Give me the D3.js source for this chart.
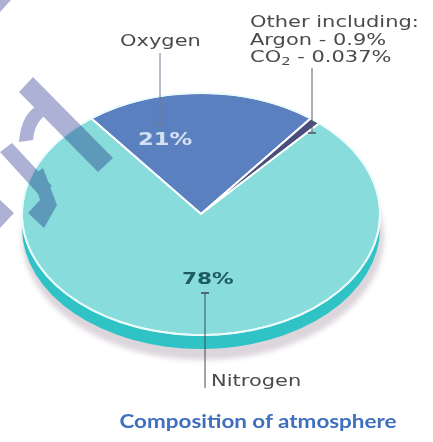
<!DOCTYPE html>
<html>
<head>
<meta charset="utf-8">
<script src="https://cdnjs.cloudflare.com/ajax/libs/d3/7.8.5/d3.min.js"></script>
<style>
  html, body { margin: 0; padding: 0; background: #fff; }
  svg { display: block; }
</style>
</head>
<body>
<svg width="433" height="442"></svg>
<script>
// chart data
var gases = ['Oxygen', 'Other', 'Nitrogen'];
var shares = [21, 1, 78];
var shareLabels = ['21%', '', '78%'];
var sliceColors = ['#5b80c0', '#4a4e7c', '#88dcdc'];
var otherLines = ['Other including:', 'Argon - 0.9%', 'CO|2| - 0.037%'];

var svg = d3.select('svg');

// layout of the tilted pie
var cx = 201, cy = 214;
var rx = 179, ry = 121;
var depth = 14;

var pie = d3.pie()
    .sort(null)
    .startAngle(-Math.PI * shares[0] / 100)
    .endAngle(2 * Math.PI - Math.PI * shares[0] / 100);

var arcs = pie(shares);
arcs.forEach(function(a, i) {
    a.name = gases[i];
    a.color = sliceColors[i];
    a.label = shareLabels[i];
});

var arc = d3.arc().innerRadius(0).outerRadius(rx);

// soft shadow under the disc
var defs = svg.append('defs');
defs.append('filter').attr('id', 'blur')
    .append('feGaussianBlur').attr('stdDeviation', 2.5);

svg.append('ellipse')
    .attr('cx', cx + 2).attr('cy', cy + depth + 9)
    .attr('rx', rx + 2).attr('ry', ry + 2)
    .attr('fill', '#dcd6dc')
    .attr('filter', 'url(#blur)');

// side band of the disc
svg.append('ellipse')
    .attr('cx', cx).attr('cy', cy + depth)
    .attr('rx', rx).attr('ry', ry)
    .attr('fill', '#2fc3c5');

// top surface
var disc = svg.append('g')
    .attr('transform', 'translate(' + cx + ',' + cy + ') scale(1,' + (ry / rx) + ')');

disc.selectAll('path.slice')
    .data(arcs)
    .enter()
    .append('path')
    .attr('class', 'slice')
    .attr('d', arc)
    .attr('fill', function(d) { return d.color; })
    .attr('stroke', '#fff')
    .attr('stroke-width', 2)
    .attr('vector-effect', 'non-scaling-stroke');

svg.append('ellipse')
    .attr('cx', cx).attr('cy', cy)
    .attr('rx', rx).attr('ry', ry)
    .attr('fill', 'none')
    .attr('stroke', '#e8fbfb')
    .attr('stroke-width', 1.5);

// watermark strokes
var mark = svg.append('g')
    .style('mix-blend-mode', 'multiply')
    .attr('fill', '#aeb1d6');
mark.append('path').attr('d', 'M0,0 L11,0 L0,12 Z');
mark.append('path').attr('d', 'M33,77 L113,158 L98,172 L19,92 Z');
mark.append('path').attr('d', 'M19,142 Q21,113 40,104 L49,113 Q35,120 33,140 Z');
mark.append('path').attr('d', 'M0,152 L12,143 L52,186 L40,196 Z');
mark.append('path').attr('d', 'M32,176 L43,168 L57,205 L44,228 L28,213 L40,200 Z');
mark.append('path').attr('d', 'M0,200 L14,213 L0,228 Z');

// label helpers
var textColor = '#4a4a4a';
function wideText(x, y, str, size, weight, color, sx) {
    var t = svg.append('text')
        .attr('transform', 'translate(' + x + ',' + y + ') scale(' + sx + ',1)')
        .style('font-family', 'DejaVu Sans, sans-serif')
        .style('font-size', size + 'px')
        .style('font-weight', weight)
        .attr('fill', color);
    var parts = str.split('|');
    parts.forEach(function(p, i) {
        var s = t.append('tspan').text(p);
        if (i % 2 === 1) {
            s.style('font-size', (size * 0.7) + 'px').attr('dy', 3);
        } else if (i > 0) {
            s.attr('dy', -3);
        }
    });
    return t;
}

function leader(x, y1, y2, tickY, color) {
    svg.append('line')
        .attr('x1', x).attr('x2', x).attr('y1', y1).attr('y2', y2)
        .attr('stroke', color).attr('stroke-width', 1);
    svg.append('line')
        .attr('x1', x - 4).attr('x2', x + 4).attr('y1', tickY).attr('y2', tickY)
        .attr('stroke', color).attr('stroke-width', 1.6);
}

// Oxygen
wideText(120, 46, gases[0], 15, 400, textColor, 1.4);
leader(160, 53, 125, 125, '#6b7a90');
wideText(138, 145, arcs[0].label, 17, 700, '#d3e1f3', 1.33);

// Other
otherLines.forEach(function(line, i) {
    wideText(250, 27 + i * 17.5, line, 15, 400, textColor, 1.4);
});
leader(312, 68, 133, 133, '#5a5a6a');

// Nitrogen
wideText(182, 284, arcs[2].label, 16, 700, '#1e5b60', 1.35);
leader(205, 293, 388, 293, '#3f4f55');
wideText(211, 386, gases[2], 15, 400, textColor, 1.4);

// title
svg.append('text')
    .attr('x', 258).attr('y', 428)
    .attr('text-anchor', 'middle')
    .attr('textLength', 277)
    .attr('lengthAdjust', 'spacingAndGlyphs')
    .style('font-family', 'Lato, "Open Sans", sans-serif')
    .style('font-size', '19px')
    .style('font-weight', 700)
    .attr('fill', '#3f6fbf')
    .text('Composition of atmosphere');
</script>
</body>
</html>
